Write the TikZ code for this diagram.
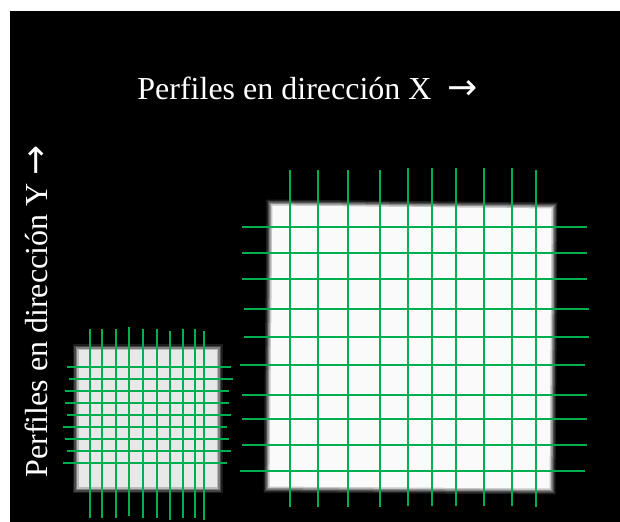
\documentclass[tikz,border=0pt]{standalone}
\usepackage{fontspec}
\setmainfont{Liberation Serif}
\newfontfamily\arrowfont{DejaVu Sans}
\usetikzlibrary{positioning}
\definecolor{profgreen}{RGB}{0,176,80}
\definecolor{phantomgray}{RGB}{232,232,232}
\definecolor{phantomwhite}{RGB}{250,250,250}

\begin{document}
\begin{tikzpicture}[x=.5pt,y=-.5pt,line cap=butt,
  profile/.style={profgreen,line width=1.1pt},
  lbl/.style={white,inner sep=0pt,font=\fontsize{16}{19}\selectfont}]
\useasboundingbox (0,0) rectangle (620,522);
\fill[white] (0,0) rectangle (620,522);
\fill[black] (10,11) rectangle (620,522);
% maniquies con bordes difuminados
\foreach \d/\p in {3.5/12,2/30,.5/55,-1/80,-2.5/100}{
  \fill[phantomgray!\p!black] (76-\d,348-\d) rectangle (219+\d,490+\d);
  \fill[phantomwhite!\p!black] (270-\d,203-\d) -- (554+\d,206-\d)
    -- (552+\d,491+\d) -- (267-\d,489+\d) -- cycle;
}
% perfiles del maniqui grande
\foreach \x/\t/\b in {290/170/507,318/170/507,348/170/507,380/170/507,
  408/168/506,432/168/506,456/168/506,484/168/506,512/168/506,536/170/507}
  \draw[profile] (\x,\t) -- (\x,\b);
\foreach \y/\l/\r in {227/242/587,253/242/587,279/242/587,309/244/589,
  337/244/589,365/240/585,395/242/587,419/242/587,445/242/587,471/240/585}
  \draw[profile] (\l,\y) -- (\r,\y);
% perfiles del maniqui chico
\foreach \x/\t/\b in {90/329/518,102/329/518,116/329/518,129/327/516,
  143/329/518,157/329/518,170/331/520,183/329/518,195/329/518,204/331/520}
  \draw[profile] (\x,\t) -- (\x,\b);
\foreach \y/\l/\r in {367/67/231,379/69/233,391/65/229,403/65/229,
  415/67/231,427/63/227,439/65/229,451/67/231,463/63/227}
  \draw[profile] (\l,\y) -- (\r,\y);
\node[lbl,anchor=base west] (xlabel) at (137,100)
 {Perfiles en dirección X~~{\arrowfont\fontsize{18}{19}\selectfont →}};
\node[lbl,anchor=base west,rotate=90] (ylabel) at (47,478)
 {Perfiles en dirección Y {\arrowfont\fontsize{18}{19}\selectfont →}};
\end{tikzpicture}
\end{document}
